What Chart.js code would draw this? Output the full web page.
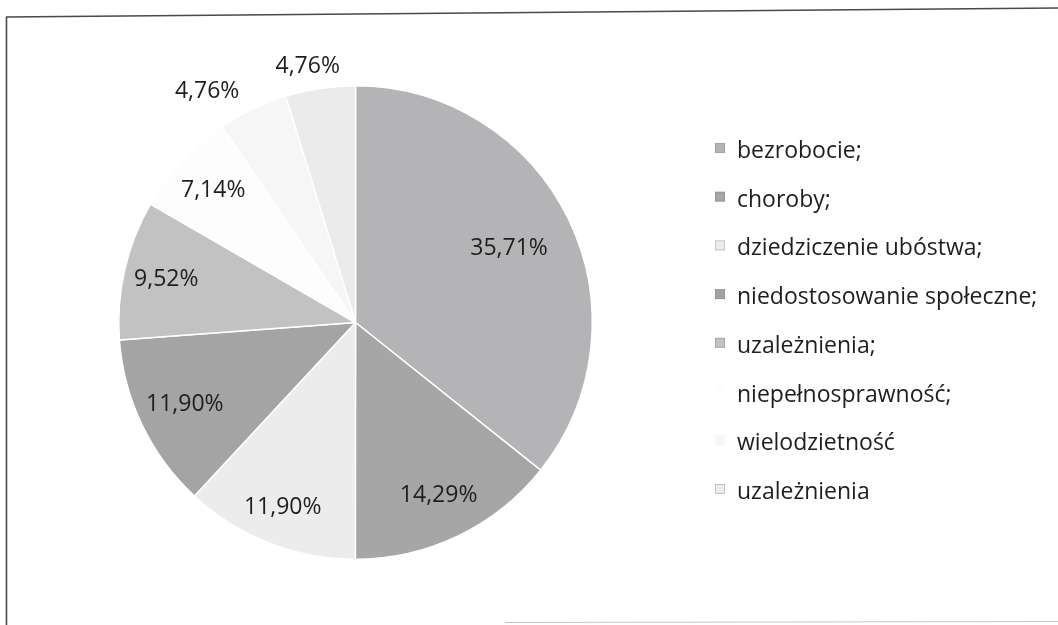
<!DOCTYPE html>
<html>
<head>
<meta charset="utf-8">
<script src="https://cdn.jsdelivr.net/npm/chart.js@4/dist/chart.umd.min.js"></script>
<style>
    body { margin: 0; background: #fff; }
    canvas { display: block; }
</style>
</head>
<body>
<canvas id="chart" width="1058" height="625"></canvas>
<script>
const causeLabels = ['bezrobocie;', 'choroby;', 'dziedziczenie ubóstwa;', 'niedostosowanie społeczne;',
    'uzależnienia;', 'niepełnosprawność;', 'wielodzietność', 'uzależnienia'];

const causeShares = [35.71, 14.29, 11.90, 11.90, 9.52, 7.14, 4.76, 4.76];

const sliceColors = ['#b4b4b6', '#a6a6a6', '#ececec', '#a4a4a4', '#c2c2c2', '#fdfdfd', '#f6f6f6', '#ebebeb'];

// where each value label sits, as a fraction of the radius, and a small turn in degrees
const labelRadius = [0.72, 0.81, 0.84, 0.80, 0.82, 0.82, 1.16, 1.10];
const labelTurn = [0, 0, 0, 0, 0, 0, -7, -2];

const textColor = '#1e1e1e';
const fontFamily = '"Open Sans", "DejaVu Sans", sans-serif';

function formatShare(v) {
    return v.toFixed(2).replace('.', ',') + '%';
}

const frameLinesPlugin = {
    id: 'frameLinesPlugin',
    beforeDraw: function (chart) {
        const { ctx } = chart;
        ctx.save();
        ctx.strokeStyle = '#4a4a4a';
        ctx.lineWidth = 1.6;
        ctx.beginPath();
        ctx.moveTo(6.5, 625);
        ctx.lineTo(6.5, 17);
        ctx.lineTo(1058, 8);
        ctx.stroke();
        ctx.strokeStyle = 'rgba(90, 90, 90, 0.35)';
        ctx.lineWidth = 1.2;
        ctx.beginPath();
        ctx.moveTo(505, 622.5);
        ctx.lineTo(1058, 621.5);
        ctx.stroke();
        ctx.restore();
    }
};

const sliceLabelsPlugin = {
    id: 'sliceLabelsPlugin',
    afterDatasetsDraw: function (chart) {
        const { ctx } = chart;
        const meta = chart.getDatasetMeta(0);
        ctx.save();
        ctx.fillStyle = textColor;
        ctx.font = '23px ' + fontFamily;
        ctx.textAlign = 'center';
        ctx.textBaseline = 'middle';
        meta.data.forEach((arc, i) => {
            const p = arc.getProps(['x', 'y', 'startAngle', 'endAngle', 'outerRadius'], true);
            const mid = (p.startAngle + p.endAngle) / 2 + labelTurn[i] * Math.PI / 180;
            const r = p.outerRadius * labelRadius[i];
            ctx.fillText(formatShare(causeShares[i]), p.x + Math.cos(mid) * r, p.y + Math.sin(mid) * r);
        });
        ctx.restore();
    }
};

const sideLegendPlugin = {
    id: 'sideLegendPlugin',
    afterDraw: function (chart) {
        const { ctx } = chart;
        const boxX = 715;
        const textX = 737;
        const firstBaseline = 158;
        const rowStep = 48.7;
        ctx.save();
        ctx.font = '23px ' + fontFamily;
        ctx.textAlign = 'left';
        ctx.textBaseline = 'alphabetic';
        chart.data.labels.forEach((label, i) => {
            const base = firstBaseline + i * rowStep;
            ctx.fillStyle = sliceColors[i];
            ctx.fillRect(boxX, base - 15, 10, 10);
            ctx.strokeStyle = 'rgba(120, 120, 120, 0.35)';
            ctx.lineWidth = 1;
            if (i < 5 || i === 7) {
                ctx.strokeRect(boxX + 0.5, base - 14.5, 9, 9);
            }
            ctx.fillStyle = textColor;
            ctx.fillText(label, textX, base);
        });
        ctx.restore();
    }
};

new Chart(document.getElementById('chart'), {
    type: 'pie',
    data: {
        labels: causeLabels,
        datasets: [{
            data: causeShares,
            backgroundColor: sliceColors,
            borderColor: '#ffffff',
            borderWidth: 1.5
        }]
    },
    options: {
        responsive: false,
        animation: false,
        layout: {
            padding: { left: 118, right: 465, top: 84, bottom: 64 }
        },
        plugins: {
            legend: { display: false },
            tooltip: { enabled: false }
        }
    },
    plugins: [frameLinesPlugin, sliceLabelsPlugin, sideLegendPlugin]
});
</script>
</body>
</html>
